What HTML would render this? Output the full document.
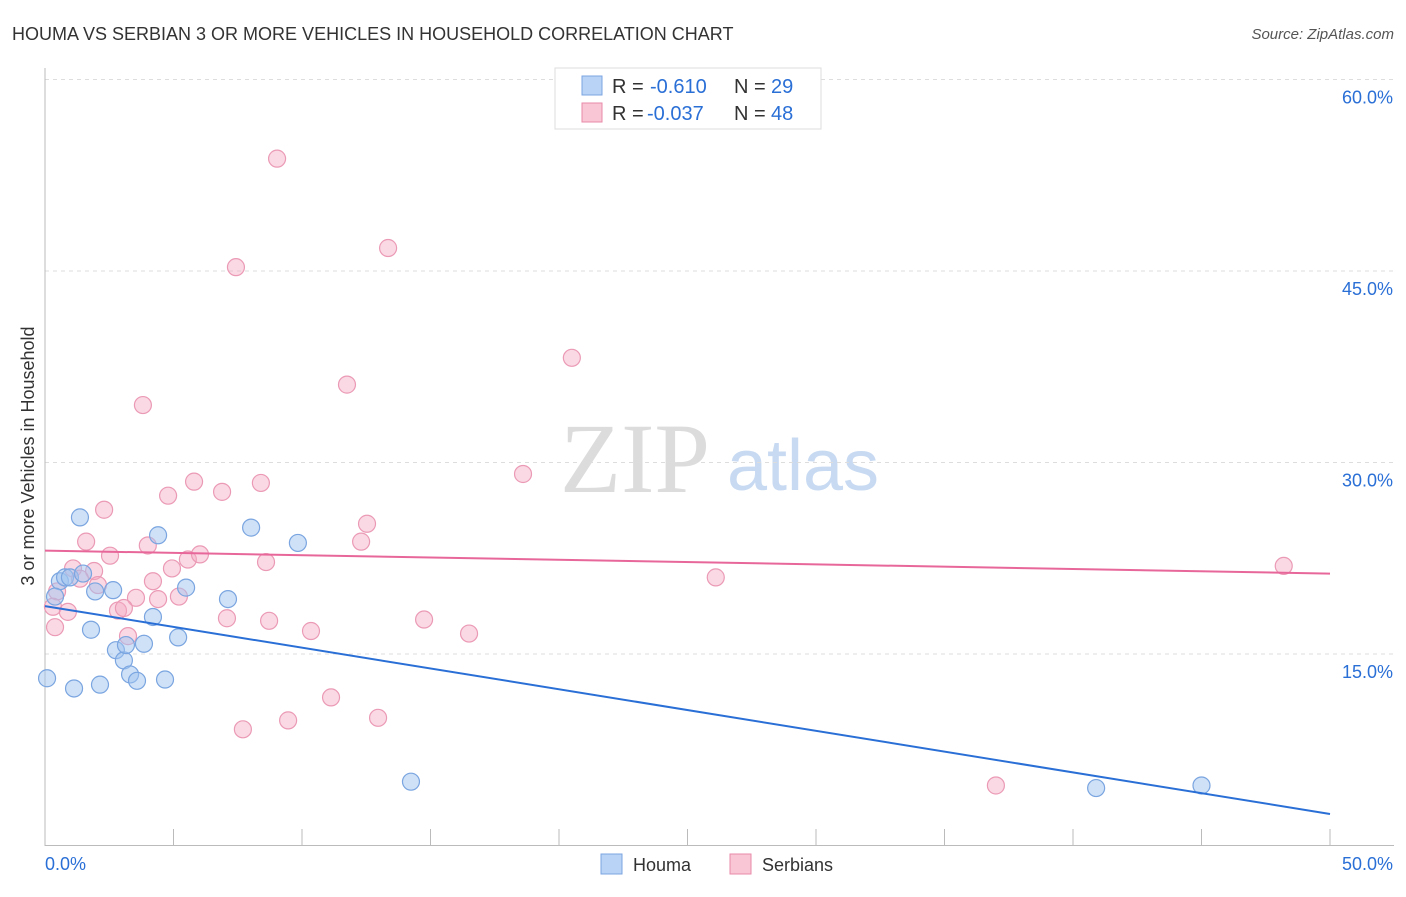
<!DOCTYPE html>
<html><head><meta charset="utf-8"><style>
body{margin:0;background:#fff;font-family:"Liberation Sans",sans-serif;}
</style></head><body>
<svg id="chart" width="1406" height="892" style="font-family:'Liberation Sans',sans-serif">
<text x="12" y="40" font-size="18" fill="#333">HOUMA VS SERBIAN 3 OR MORE VEHICLES IN HOUSEHOLD CORRELATION CHART</text>
<text x="1394" y="39" font-size="15" fill="#555" font-style="italic" text-anchor="end">Source: ZipAtlas.com</text>
<g><text x="635" y="492" font-size="100" fill="#dcdcdc" style="font-family:'Liberation Serif',serif" text-anchor="middle">ZIP</text><text x="803" y="490" font-size="72" fill="#c8daf2" text-anchor="middle">atlas</text></g>
<g id="grid"></g><g id="axes"></g><g id="marks"></g>
<text transform="translate(34,456) rotate(-90)" font-size="18" fill="#333" text-anchor="middle">3 or more Vehicles in Household</text>
<g font-size="20">
<rect x="555" y="68" width="266" height="61" fill="#fff" stroke="#ddd"/>
<rect x="582" y="76" width="20" height="19" fill="#b8d3f5" stroke="#7aa5e0"/>
<rect x="582" y="103" width="20" height="19" fill="#f9c6d6" stroke="#e88aa8"/>
<text x="612" y="93" fill="#333">R =</text><text x="650" y="93" fill="#2a6fd6">-0.610</text><text x="734" y="93" fill="#333">N =</text><text x="771" y="93" fill="#2a6fd6">29</text>
<text x="612" y="120" fill="#333">R =</text><text x="647" y="120" fill="#2a6fd6">-0.037</text><text x="734" y="120" fill="#333">N =</text><text x="771" y="120" fill="#2a6fd6">48</text>
</g>
<g>
<rect x="601" y="854" width="21" height="20" fill="#b8d3f5" stroke="#7aa5e0"/><text x="633" y="871" font-size="18" fill="#333">Houma</text>
<rect x="730" y="854" width="21" height="20" fill="#f9c6d6" stroke="#e88aa8"/><text x="762" y="871" font-size="18" fill="#333">Serbians</text>
</g>
</svg>
<script>
const houmaX=[0.08,0.58,0.78,0.97,1.48,1.36,0.39,1.79,1.95,2.65,2.76,3.07,3.15,3.31,3.58,3.85,4.2,4.4,4.67,5.18,5.49,7.12,8.02,9.84,14.24,40.9,45.0,1.13,2.14];
const houmaY=[13.1,20.7,21.0,21.0,21.3,25.7,19.5,16.9,19.9,20.0,15.3,14.5,15.7,13.4,12.9,15.8,17.9,24.3,13.0,16.3,20.2,19.3,24.9,23.7,5.0,4.5,4.7,12.3,12.6];
const serbX=[9.03,7.43,13.35,20.5,11.75,3.81,18.6,5.8,8.4,4.79,6.89,2.3,12.53,12.3,1.6,4.0,2.53,5.56,6.03,8.6,1.09,1.91,4.94,1.36,2.06,4.2,26.1,48.2,0.47,3.54,4.4,5.21,0.31,2.84,3.07,0.89,0.39,7.08,8.72,14.75,10.35,16.5,3.23,11.13,12.96,9.46,7.7,37.0];
const serbY=[53.8,45.3,46.8,38.2,36.1,34.5,29.1,28.5,28.4,27.4,27.7,26.3,25.2,23.8,23.8,23.5,22.7,22.4,22.8,22.2,21.7,21.5,21.7,20.9,20.4,20.7,21.0,21.9,19.9,19.4,19.3,19.5,18.7,18.4,18.6,18.3,17.1,17.8,17.6,17.7,16.8,16.6,16.4,11.6,10.0,9.8,9.1,4.7];
const houmaTrend=[18.75,2.47];
const serbTrend=[23.1,21.3];
const yTicks=[15,30,45,60];
const xTickVals=[0,5,10,15,20,25,30,35,40,45,50];
const NS='http://www.w3.org/2000/svg';
const sx=v=>45+v*25.7, sy=v=>845.5-v*12.767;
function mk(p,t,a){const e=document.createElementNS(NS,t);for(const k in a)e.setAttribute(k,a[k]);p.appendChild(e);return e;}
const grid=document.getElementById('grid'),axes=document.getElementById('axes'),marks=document.getElementById('marks');
yTicks.forEach(v=>{
 const l=mk(grid,'line',{x1:45,x2:1394,y1:sy(v),y2:sy(v),stroke:'#ddd','stroke-dasharray':'4,4'});
 
 
 const t=mk(axes,'text',{x:1393,y:sy(v)+24,'font-size':18,fill:'#2a6fd6','text-anchor':'end'});t.textContent=v.toFixed(1)+'%';
 
 
});
const ya=mk(axes,'line',{x1:45,x2:45,y1:68,y2:846,stroke:'#bbb'});


const xa=mk(axes,'line',{x1:45,x2:1394,y1:845.5,y2:845.5,stroke:'#bbb'});


xTickVals.forEach(v=>{
 const l=mk(axes,'line',{x1:sx(v),x2:sx(v),y1:829,y2:846,stroke:'#bbb'});
 
 
});
[[0,'start',45],[50,'end',1393]].forEach(([v,a,x])=>{
 const t=mk(axes,'text',{x:x,y:870,'font-size':18,fill:'#2a6fd6','text-anchor':a});t.textContent=v.toFixed(1)+'%';
 
 
});
serbX.forEach((x,i)=>{
 const c=mk(marks,'circle',{cx:sx(x),cy:sy(serbY[i]),r:8.5,fill:'rgba(245,170,195,0.45)',stroke:'#eb9ab5','stroke-width':1.2});
 
 
});
houmaX.forEach((x,i)=>{
 const c=mk(marks,'circle',{cx:sx(x),cy:sy(houmaY[i]),r:8.5,fill:'rgba(160,195,240,0.5)',stroke:'#7aa5e0','stroke-width':1.2});
 
 
});
const tb=mk(marks,'line',{x1:sx(0),x2:sx(50),y1:sy(houmaTrend[0]),y2:sy(houmaTrend[1]),stroke:'#2a6fd6','stroke-width':2});


const tp=mk(marks,'line',{x1:sx(0),x2:sx(50),y1:sy(serbTrend[0]),y2:sy(serbTrend[1]),stroke:'#e8679a','stroke-width':2});


</script>
</body></html>
